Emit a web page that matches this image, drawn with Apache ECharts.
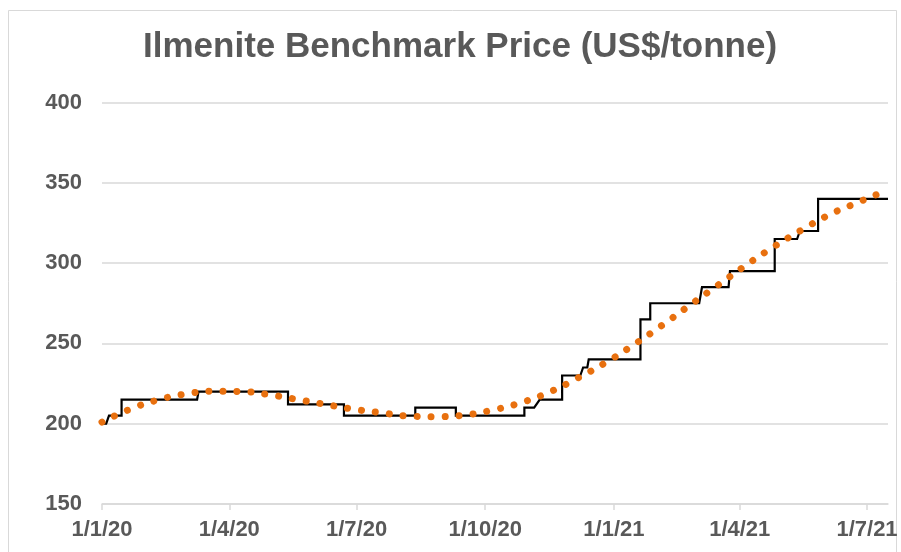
<!DOCTYPE html>
<html lang="en">
<head>
<meta charset="UTF-8">
<title>Ilmenite Benchmark Price</title>
<style>
    * { margin: 0; padding: 0; }
    html, body { background: #fff; }
    .main { width: 901px; height: 552px; }
</style>
<script src="https://cdn.jsdelivr.net/npm/echarts@6/dist/echarts.min.js"></script>
</head>
<body>
<div class="main"></div>
<script>
    // benchmark price: corner points of the stepped black line
    let priceDates = [
        '2020-01-01', '2020-01-04', '2020-01-06', '2020-01-15', '2020-01-15',
        '2020-03-09', '2020-03-10', '2020-05-13', '2020-05-13', '2020-06-22',
        '2020-06-22', '2020-08-12', '2020-08-12', '2020-09-10', '2020-09-10',
        '2020-10-29', '2020-10-29', '2020-11-05', '2020-11-09', '2020-11-25',
        '2020-11-25', '2020-12-08', '2020-12-10', '2020-12-13', '2020-12-14',
        '2021-01-20', '2021-01-20', '2021-01-27', '2021-01-27', '2021-03-03',
        '2021-03-05', '2021-03-24', '2021-03-25', '2021-04-26', '2021-04-26',
        '2021-05-12', '2021-05-14', '2021-05-27', '2021-05-27', '2021-07-16'
    ];
    let priceValues = [
        200, 200, 205, 205, 215,
        215, 220, 220, 212, 212,
        205, 205, 210, 210, 205,
        205, 210, 210, 215, 215,
        230, 230, 235, 235, 240,
        240, 265, 265, 275, 275,
        285, 285, 295, 295, 315,
        315, 320, 320, 340, 340
    ];
    // orange dotted trend line
    let trendDates = [
        '2020-01-01', '2020-01-21', '2020-02-10', '2020-03-01', '2020-03-21',
        '2020-04-10', '2020-04-30', '2020-05-20', '2020-06-09', '2020-06-29',
        '2020-07-19', '2020-08-08', '2020-08-28', '2020-09-17', '2020-10-07',
        '2020-10-27', '2020-11-16', '2020-12-06', '2020-12-26', '2021-01-15',
        '2021-02-04', '2021-02-24', '2021-03-16', '2021-04-05', '2021-04-25',
        '2021-05-15', '2021-06-04', '2021-06-24', '2021-07-12'
    ];
    let trendValues = [
        201, 209, 214.8, 218.5, 220.2,
        220, 218, 215, 212, 209,
        206.8, 204.7, 204.4, 205.5, 208.6,
        213.2, 219.7, 228.4, 238, 249,
        261, 273.6, 286, 298.4, 310,
        320.5, 330.1, 337.6, 344.2
    ];
    let tickDates = ['2020-01-01', '2020-04-01', '2020-07-01', '2020-10-01', '2021-01-01', '2021-04-01', '2021-07-01'];
    let xStart = '2020-01-01';
    let xEnd = '2021-07-16';
    let yMin = 150, yMax = 400, yStep = 50;

    function toTime(s) {
        let p = s.split('-');
        return new Date(+p[0], p[1] - 1, +p[2]).getTime();
    }
    function dmy(val) {
        let d = new Date(val);
        return d.getDate() + '/' + (d.getMonth() + 1) + '/' + String(d.getFullYear()).slice(2);
    }

    let ticks = tickDates.map(toTime);
    let font = "'Liberation Sans', Arial, sans-serif";
    let grey = '#595959';
    let lineGrey = '#d9d9d9';

    let main = document.querySelector('.main');
    let chart = echarts.init(main, null, { renderer: 'canvas' });

    let option = {
        animation: false,
        backgroundColor: '#fff',
        graphic: [{
            type: 'rect',
            silent: true,
            shape: { x: 8.5, y: 10.5, width: 888, height: 600 },
            style: { fill: 'none', stroke: lineGrey, lineWidth: 1 }
        }],
        title: {
            text: 'Ilmenite Benchmark Price (US$/tonne)',
            left: 143,
            top: 30,
            padding: 0,
            textStyle: { fontFamily: font, fontSize: 35, fontWeight: 'bold', color: grey }
        },
        grid: {
            left: 102, right: 13, top: 102.5, bottom: 48,
            containLabel: false,
            outerBoundsMode: 'none'
        },
        xAxis: {
            // dates as timestamps on a value axis, ticks at quarter starts
            type: 'value',
            min: toTime(xStart),
            max: toTime(xEnd),
            splitLine: { show: false },
            axisLine: { show: true, lineStyle: { color: lineGrey, width: 1.5 } },
            axisTick: {
                show: true,
                length: 6,
                customValues: ticks,
                lineStyle: { color: lineGrey, width: 1.5 }
            },
            axisLabel: {
                customValues: ticks,
                formatter: dmy,
                margin: 15,
                fontFamily: font,
                fontSize: 22,
                fontWeight: 'bold',
                color: grey,
                showMinLabel: true,
                showMaxLabel: true,
                hideOverlap: false
            }
        },
        yAxis: {
            type: 'value',
            min: yMin,
            max: yMax,
            interval: yStep,
            axisLine: { show: false },
            axisTick: { show: false },
            splitLine: { lineStyle: { color: lineGrey, width: 1.5 } },
            axisLabel: {
                margin: 20,
                fontFamily: font,
                fontSize: 22,
                fontWeight: 'bold',
                color: grey
            }
        },
        series: [
            {
                name: 'Price',
                type: 'line',
                symbol: 'none',
                data: priceDates.map((d, i) => [toTime(d), priceValues[i]]),
                lineStyle: { color: '#000', width: 2.2, join: 'miter' }
            },
            {
                name: 'Trend',
                type: 'line',
                symbol: 'none',
                smooth: true,
                data: trendDates.map((d, i) => [toTime(d), trendValues[i]]),
                lineStyle: { color: '#e8700f', width: 7, type: [0.01, 14], cap: 'round' }
            }
        ]
    };
    chart.setOption(option);
</script>
</body>
</html>
